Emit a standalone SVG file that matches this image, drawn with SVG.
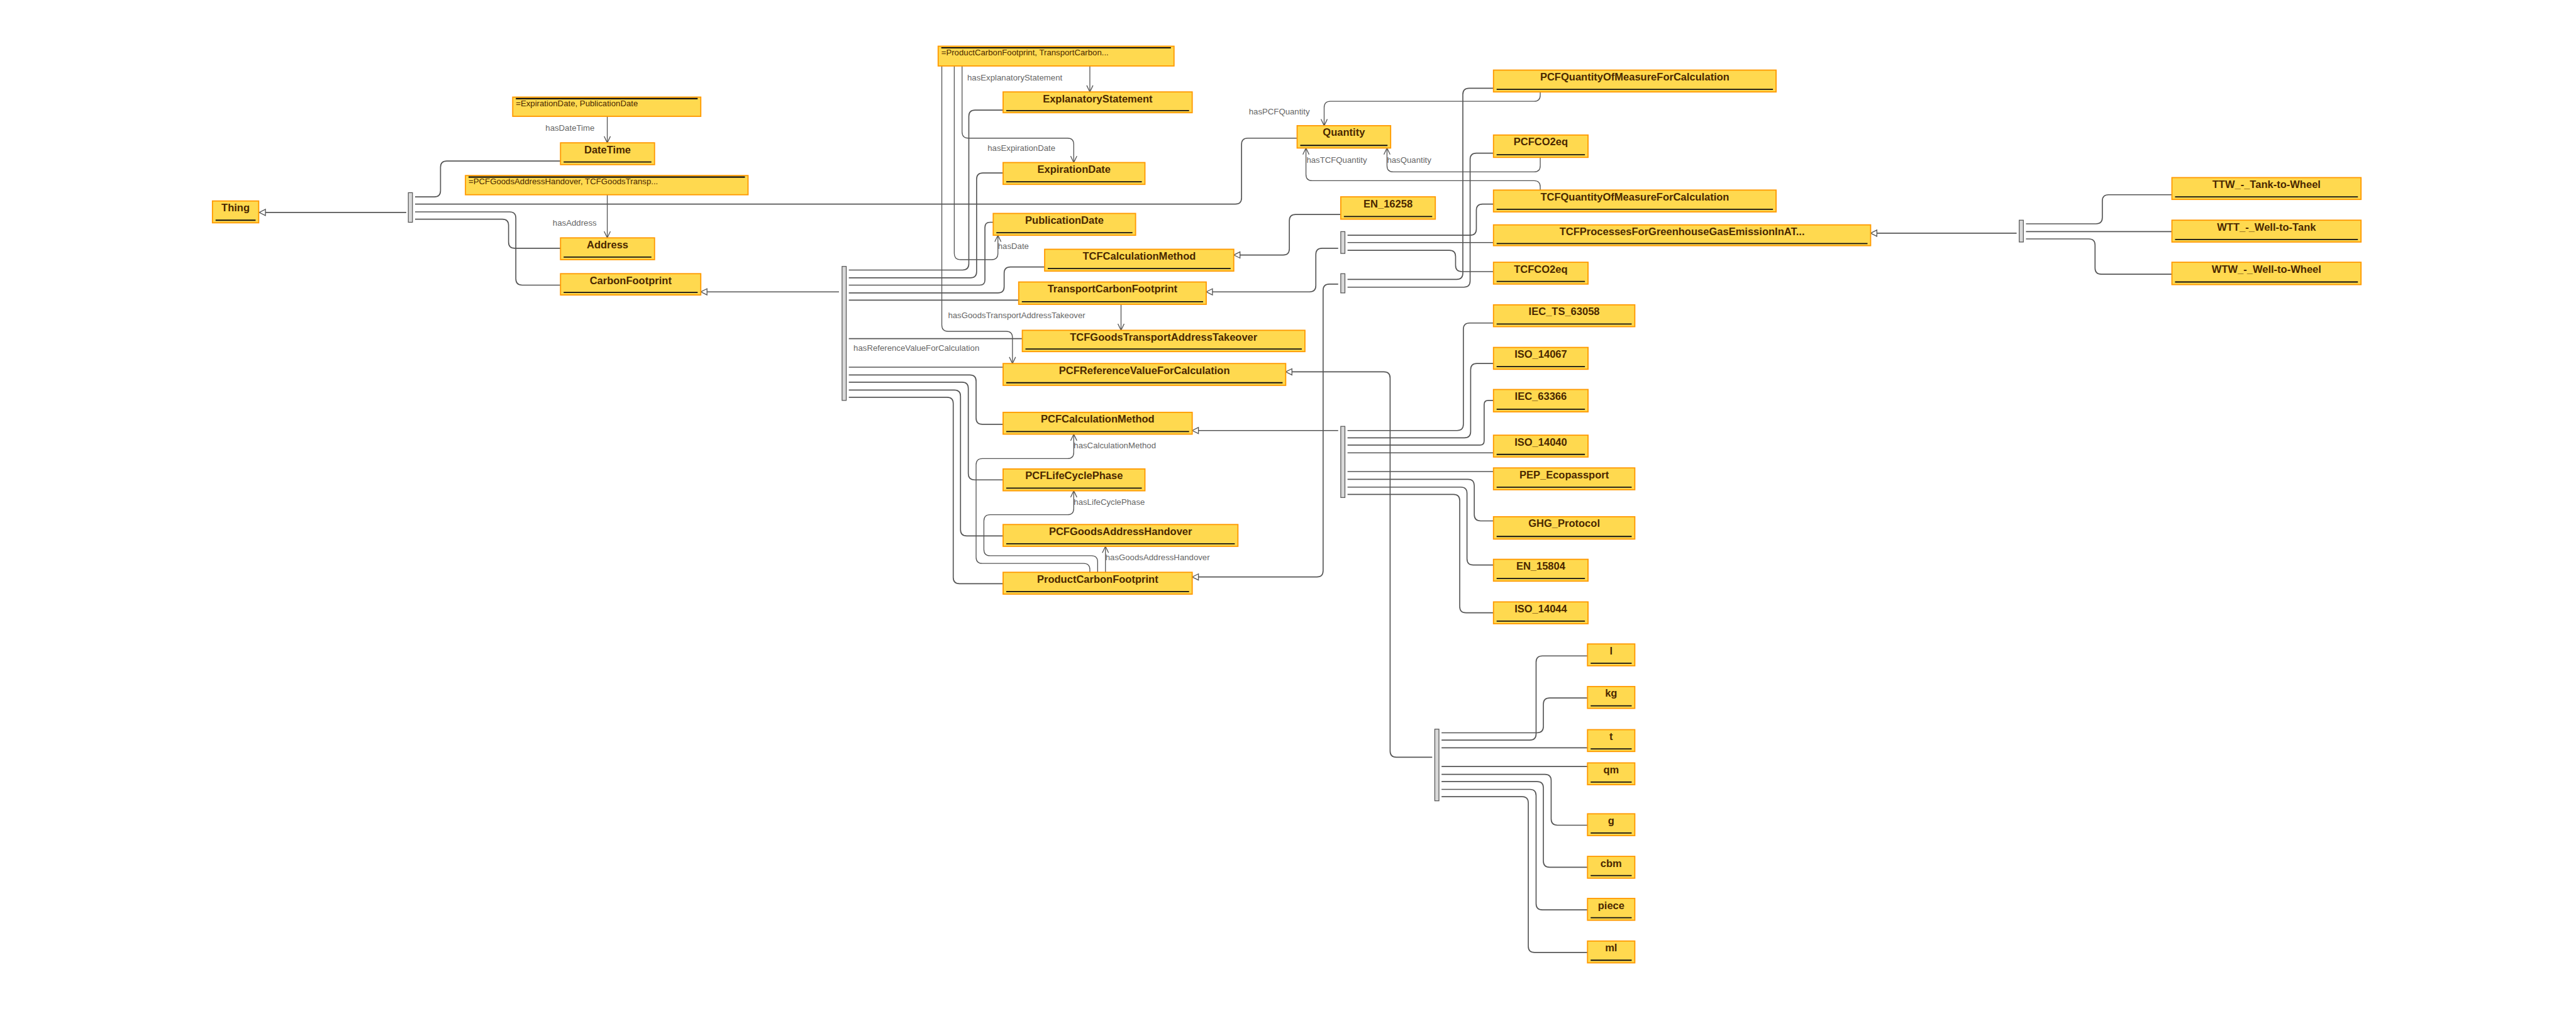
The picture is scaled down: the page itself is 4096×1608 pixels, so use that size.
<svg xmlns="http://www.w3.org/2000/svg" width="4096" height="1608" viewBox="0 0 4096 1608">
<style>
.bg{fill:#ffffff}
.box{fill:#FFD94F;stroke:#FF9900;stroke-width:2.2}
.ul{stroke:#111;stroke-width:2.2}
.nl{stroke:#111;stroke-width:2.6}
.cn{font-family:"Liberation Sans",Arial,sans-serif;font-size:20px;font-weight:bold;fill:#4a2800;text-anchor:middle}
.nt{font-family:"Liberation Sans",Arial,sans-serif;font-size:16px;fill:#4a2800}
.lbl{font-family:"Liberation Sans",Arial,sans-serif;font-size:16px;fill:#666}
.sc{fill:none;stroke:#555;stroke-width:2}
.op{fill:none;stroke:#555;stroke-width:1.6}
.bus{fill:#d9d9d9;stroke:#555;stroke-width:1.5}
</style>
<defs>
<marker id="tri" markerUnits="userSpaceOnUse" markerWidth="16" markerHeight="16" refX="14" refY="7.5" orient="auto">
<path d="M2,1.5 L14,7.5 L2,13.5 Z" fill="#fff" stroke="#555" stroke-width="1.6"/>
</marker>
<marker id="vee" markerUnits="userSpaceOnUse" markerWidth="16" markerHeight="15" refX="14" refY="7" orient="auto">
<path d="M1.5,1 L14,7 L1.5,13" fill="none" stroke="#555" stroke-width="1.6"/>
</marker>
</defs>
<rect class="bg" x="0" y="0" width="4096" height="1608"/>
<g transform="scale(0.826)">
<g id="connectors">
<path class="sc" marker-end="url(#tri)" d="M782,409 H499"/>
<path class="sc" d="M799,379 H836 Q848,379 848,367 V322 Q848,310 860,310 H1079"/>
<path class="sc" d="M799,393 H2378 Q2390,393 2390,381 V278 Q2390,266 2402,266 H2497"/>
<path class="sc" d="M799,408 H981 Q993,408 993,420 V537 Q993,549 1005,549 H1079"/>
<path class="sc" d="M799,422 H967 Q979,422 979,434 V466 Q979,478 991,478 H1079"/>
<path class="sc" marker-end="url(#tri)" d="M1615,562 H1349"/>
<path class="sc" d="M1634,520 H1853 Q1865,520 1865,508 V224 Q1865,212 1877,212 H1931"/>
<path class="sc" d="M1634,535 H1868 Q1880,535 1880,523 V345 Q1880,333 1892,333 H1931"/>
<path class="sc" d="M1634,549 H1886 Q1896,549 1896,539 V438 Q1896,428 1906,428 H1912"/>
<path class="sc" d="M1634,564 H1921 Q1933,564 1933,552 V526 Q1933,514 1945,514 H2011"/>
<path class="sc" d="M1634,578 H1961"/>
<path class="sc" d="M1634,652 H1968"/>
<path class="sc" d="M1634,707 H1931"/>
<path class="sc" d="M1634,722 H1867 Q1879,722 1879,734 V805 Q1879,817 1891,817 H1931"/>
<path class="sc" d="M1634,736 H1852 Q1864,736 1864,748 V912 Q1864,924 1876,924 H1931"/>
<path class="sc" d="M1634,751 H1837 Q1849,751 1849,763 V1020 Q1849,1032 1861,1032 H1931"/>
<path class="sc" d="M1634,765 H1823 Q1835,765 1835,777 V1112 Q1835,1124 1847,1124 H1931"/>
<path class="sc" marker-end="url(#tri)" d="M2581,413 H2494 Q2482,413 2482,425 V479 Q2482,491 2470,491 H2375"/>
<path class="sc" marker-end="url(#tri)" d="M2576,478 H2545 Q2533,478 2533,490 V550 Q2533,562 2521,562 H2322"/>
<path class="sc" d="M2594,453 H2830 Q2842,453 2842,441 V405 Q2842,393 2854,393 H2875"/>
<path class="sc" d="M2594,467 H2875"/>
<path class="sc" d="M2594,482 H2790 Q2802,482 2802,494 V511 Q2802,523 2814,523 H2875"/>
<path class="sc" marker-end="url(#tri)" d="M2576,547 H2559 Q2547,547 2547,559 V1099 Q2547,1111 2535,1111 H2295"/>
<path class="sc" d="M2594,538 H2804 Q2816,538 2816,526 V182 Q2816,170 2828,170 H2875"/>
<path class="sc" d="M2594,553 H2818 Q2830,553 2830,541 V307 Q2830,295 2842,295 H2875"/>
<path class="sc" marker-end="url(#tri)" d="M2576,829 H2295"/>
<path class="sc" d="M2594,829 H2805 Q2817,829 2817,817 V634 Q2817,622 2829,622 H2875"/>
<path class="sc" d="M2594,843 H2819 Q2831,843 2831,831 V712 Q2831,700 2843,700 H2875"/>
<path class="sc" d="M2594,857 H2849 Q2857,857 2857,849 V779 Q2857,771 2865,771 H2875"/>
<path class="sc" d="M2594,872 H2875"/>
<path class="sc" d="M2594,908 H2875"/>
<path class="sc" d="M2594,923 H2826 Q2838,923 2838,935 V991 Q2838,1003 2850,1003 H2875"/>
<path class="sc" d="M2594,938 H2812 Q2824,938 2824,950 V1076 Q2824,1088 2836,1088 H2875"/>
<path class="sc" d="M2594,952 H2798 Q2810,952 2810,964 V1168 Q2810,1180 2822,1180 H2875"/>
<path class="sc" marker-end="url(#tri)" d="M2757,1458 H2688 Q2676,1458 2676,1446 V728 Q2676,716 2664,716 H2475"/>
<path class="sc" d="M2775,1425 H2945 Q2957,1425 2957,1413 V1275 Q2957,1263 2969,1263 H3056"/>
<path class="sc" d="M2775,1411 H2959 Q2971,1411 2971,1399 V1356 Q2971,1344 2983,1344 H3056"/>
<path class="sc" d="M2775,1440 H3056"/>
<path class="sc" d="M2775,1476 H3056"/>
<path class="sc" d="M2775,1491 H2974 Q2986,1491 2986,1503 V1577 Q2986,1589 2998,1589 H3056"/>
<path class="sc" d="M2775,1505 H2959 Q2971,1505 2971,1517 V1658 Q2971,1670 2983,1670 H3056"/>
<path class="sc" d="M2775,1520 H2945 Q2957,1520 2957,1532 V1740 Q2957,1752 2969,1752 H3056"/>
<path class="sc" d="M2775,1534 H2930 Q2942,1534 2942,1546 V1822 Q2942,1834 2954,1834 H3056"/>
<path class="sc" marker-end="url(#tri)" d="M3882,449 H3601"/>
<path class="sc" d="M3900,431 H4035 Q4047,431 4047,419 V387 Q4047,375 4059,375 H4181"/>
<path class="sc" d="M3900,446 H4181"/>
<path class="sc" d="M3900,460 H4021 Q4033,460 4033,472 V516 Q4033,528 4045,528 H4181"/>
<path class="op" marker-end="url(#vee)" d="M1169,224 V275"/>
<path class="op" marker-end="url(#vee)" d="M1169,375 V458"/>
<path class="op" marker-end="url(#vee)" d="M2098,127 V177"/>
<path class="op" marker-end="url(#vee)" d="M1852,127 V254 Q1852,266 1864,266 H2055 Q2067,266 2067,278 V313"/>
<path class="op" marker-end="url(#vee)" d="M1837,127 V488 Q1837,500 1849,500 H1909 Q1921,500 1921,488 V453"/>
<path class="op" marker-end="url(#vee)" d="M1813,127 V626 Q1813,638 1825,638 H1937 Q1949,638 1949,650 V700"/>
<path class="op" marker-end="url(#vee)" d="M2158,586 V636"/>
<path class="op" marker-end="url(#vee)" d="M2965,177 V183 Q2965,195 2953,195 H2561 Q2549,195 2549,207 V242"/>
<path class="op" marker-end="url(#vee)" d="M2965,303 V319 Q2965,331 2953,331 H2682 Q2670,331 2670,319 V285"/>
<path class="op" marker-end="url(#vee)" d="M2965,366 V360 Q2965,348 2953,348 H2526 Q2514,348 2514,336 V285"/>
<path class="op" marker-end="url(#vee)" d="M2098,1102 V1097 Q2098,1085 2086,1085 H1891 Q1879,1085 1879,1073 V895 Q1879,883 1891,883 H2055 Q2067,883 2067,871 V836"/>
<path class="op" marker-end="url(#vee)" d="M2113,1102 V1082 Q2113,1070 2101,1070 H1906 Q1894,1070 1894,1058 V1003 Q1894,991 1906,991 H2055 Q2067,991 2067,979 V945"/>
<path class="op" marker-end="url(#vee)" d="M2128,1102 V1052"/>
<text class="lbl" x="1050" y="252">hasDateTime</text>
<text class="lbl" x="1064" y="435">hasAddress</text>
<text class="lbl" x="1862" y="155">hasExplanatoryStatement</text>
<text class="lbl" x="1901" y="290">hasExpirationDate</text>
<text class="lbl" x="1921" y="480">hasDate</text>
<text class="lbl" x="1643" y="676">hasReferenceValueForCalculation</text>
<text class="lbl" x="1825" y="612">hasGoodsTransportAddressTakeover</text>
<text class="lbl" x="2404" y="220">hasPCFQuantity</text>
<text class="lbl" x="2670" y="313">hasQuantity</text>
<text class="lbl" x="2515" y="313">hasTCFQuantity</text>
<text class="lbl" x="2067" y="863">hasCalculationMethod</text>
<text class="lbl" x="2067" y="972">hasLifeCyclePhase</text>
<text class="lbl" x="2128" y="1079">hasGoodsAddressHandover</text>
</g>
<g id="buses">
<rect id="bus1" class="bus" x="786" y="371" width="8" height="57"/>
<rect id="bus2" class="bus" x="1621" y="513" width="8" height="258"/>
<rect id="busA" class="bus" x="2581" y="446" width="8" height="42"/>
<rect id="busB" class="bus" x="2581" y="527" width="8" height="37"/>
<rect id="busC" class="bus" x="2581" y="821" width="8" height="137"/>
<rect id="busD" class="bus" x="2762" y="1404" width="8" height="138"/>
<rect id="busE" class="bus" x="3887" y="424" width="8" height="42"/>
</g>
<g id="note1"><rect class="box" x="987" y="187" width="362" height="37"/><line class="nl" x1="993" y1="190" x2="1343" y2="190"/><text class="nt" x="993" y="204">=ExpirationDate, PublicationDate</text></g>
<g id="note2"><rect class="box" x="896" y="338" width="544" height="37"/><line class="nl" x1="902" y1="341" x2="1434" y2="341"/><text class="nt" x="902" y="355">=PCFGoodsAddressHandover, TCFGoodsTransp...</text></g>
<g id="note3"><rect class="box" x="1806" y="89" width="454" height="38"/><line class="nl" x1="1812" y1="92" x2="2254" y2="92"/><text class="nt" x="1812" y="106">=ProductCarbonFootprint, TransportCarbon...</text></g>
<g id="Thing"><rect class="box" x="409" y="387" width="89" height="42"/><line class="ul" x1="415" y1="424" x2="492" y2="424"/><text class="cn" x="453.5" y="407">Thing</text></g>
<g id="DateTime"><rect class="box" x="1079" y="275" width="181" height="42"/><line class="ul" x1="1085" y1="312" x2="1254" y2="312"/><text class="cn" x="1169.5" y="295">DateTime</text></g>
<g id="Address"><rect class="box" x="1079" y="458" width="181" height="42"/><line class="ul" x1="1085" y1="495" x2="1254" y2="495"/><text class="cn" x="1169.5" y="478">Address</text></g>
<g id="CarbonFootprint"><rect class="box" x="1079" y="527" width="270" height="41"/><line class="ul" x1="1085" y1="563" x2="1343" y2="563"/><text class="cn" x="1214" y="547">CarbonFootprint</text></g>
<g id="ExplanatoryStatement"><rect class="box" x="1931" y="177" width="364" height="40"/><line class="ul" x1="1937" y1="213" x2="2289" y2="213"/><text class="cn" x="2113" y="197">ExplanatoryStatement</text></g>
<g id="ExpirationDate"><rect class="box" x="1931" y="313" width="273" height="42"/><line class="ul" x1="1937" y1="350" x2="2198" y2="350"/><text class="cn" x="2067.5" y="333">ExpirationDate</text></g>
<g id="PublicationDate"><rect class="box" x="1912" y="411" width="274" height="42"/><line class="ul" x1="1918" y1="448" x2="2180" y2="448"/><text class="cn" x="2049" y="431">PublicationDate</text></g>
<g id="TCFCalculationMethod"><rect class="box" x="2011" y="480" width="364" height="42"/><line class="ul" x1="2017" y1="517" x2="2369" y2="517"/><text class="cn" x="2193" y="500">TCFCalculationMethod</text></g>
<g id="TransportCarbonFootprint"><rect class="box" x="1961" y="543" width="361" height="43"/><line class="ul" x1="1967" y1="581" x2="2316" y2="581"/><text class="cn" x="2141.5" y="563">TransportCarbonFootprint</text></g>
<g id="TCFGoodsTransportAddressTakeover"><rect class="box" x="1968" y="636" width="544" height="41"/><line class="ul" x1="1974" y1="672" x2="2506" y2="672"/><text class="cn" x="2240" y="656">TCFGoodsTransportAddressTakeover</text></g>
<g id="PCFReferenceValueForCalculation"><rect class="box" x="1931" y="700" width="544" height="42"/><line class="ul" x1="1937" y1="737" x2="2469" y2="737"/><text class="cn" x="2203" y="720">PCFReferenceValueForCalculation</text></g>
<g id="PCFCalculationMethod"><rect class="box" x="1931" y="794" width="364" height="42"/><line class="ul" x1="1937" y1="831" x2="2289" y2="831"/><text class="cn" x="2113" y="814">PCFCalculationMethod</text></g>
<g id="PCFLifeCyclePhase"><rect class="box" x="1931" y="903" width="273" height="42"/><line class="ul" x1="1937" y1="940" x2="2198" y2="940"/><text class="cn" x="2067.5" y="923">PCFLifeCyclePhase</text></g>
<g id="PCFGoodsAddressHandover"><rect class="box" x="1931" y="1010" width="452" height="42"/><line class="ul" x1="1937" y1="1047" x2="2377" y2="1047"/><text class="cn" x="2157" y="1030">PCFGoodsAddressHandover</text></g>
<g id="ProductCarbonFootprint"><rect class="box" x="1931" y="1102" width="364" height="42"/><line class="ul" x1="1937" y1="1139" x2="2289" y2="1139"/><text class="cn" x="2113" y="1122">ProductCarbonFootprint</text></g>
<g id="Quantity"><rect class="box" x="2497" y="242" width="180" height="43"/><line class="ul" x1="2503" y1="280" x2="2671" y2="280"/><text class="cn" x="2587" y="262">Quantity</text></g>
<g id="EN_16258"><rect class="box" x="2581" y="379" width="182" height="43"/><line class="ul" x1="2587" y1="417" x2="2757" y2="417"/><text class="cn" x="2672" y="399">EN_16258</text></g>
<g id="PCFQuantityOfMeasureForCalculation"><rect class="box" x="2875" y="135" width="544" height="42"/><line class="ul" x1="2881" y1="172" x2="3413" y2="172"/><text class="cn" x="3147" y="155">PCFQuantityOfMeasureForCalculation</text></g>
<g id="PCFCO2eq"><rect class="box" x="2875" y="260" width="182" height="43"/><line class="ul" x1="2881" y1="298" x2="3051" y2="298"/><text class="cn" x="2966" y="280">PCFCO2eq</text></g>
<g id="TCFQuantityOfMeasureForCalculation"><rect class="box" x="2875" y="366" width="544" height="42"/><line class="ul" x1="2881" y1="403" x2="3413" y2="403"/><text class="cn" x="3147" y="386">TCFQuantityOfMeasureForCalculation</text></g>
<g id="TCFProcessesForGreenhouseGasEmissionInAT"><rect class="box" x="2875" y="433" width="726" height="40"/><line class="ul" x1="2881" y1="469" x2="3595" y2="469"/><text class="cn" x="3238" y="453">TCFProcessesForGreenhouseGasEmissionInAT...</text></g>
<g id="TCFCO2eq"><rect class="box" x="2875" y="505" width="182" height="42"/><line class="ul" x1="2881" y1="542" x2="3051" y2="542"/><text class="cn" x="2966" y="525">TCFCO2eq</text></g>
<g id="IEC_TS_63058"><rect class="box" x="2875" y="587" width="272" height="42"/><line class="ul" x1="2881" y1="624" x2="3141" y2="624"/><text class="cn" x="3011" y="607">IEC_TS_63058</text></g>
<g id="ISO_14067"><rect class="box" x="2875" y="669" width="182" height="42"/><line class="ul" x1="2881" y1="706" x2="3051" y2="706"/><text class="cn" x="2966" y="689">ISO_14067</text></g>
<g id="IEC_63366"><rect class="box" x="2875" y="750" width="182" height="43"/><line class="ul" x1="2881" y1="788" x2="3051" y2="788"/><text class="cn" x="2966" y="770">IEC_63366</text></g>
<g id="ISO_14040"><rect class="box" x="2875" y="838" width="182" height="42"/><line class="ul" x1="2881" y1="875" x2="3051" y2="875"/><text class="cn" x="2966" y="858">ISO_14040</text></g>
<g id="PEP_Ecopassport"><rect class="box" x="2875" y="901" width="272" height="42"/><line class="ul" x1="2881" y1="938" x2="3141" y2="938"/><text class="cn" x="3011" y="921">PEP_Ecopassport</text></g>
<g id="GHG_Protocol"><rect class="box" x="2875" y="995" width="272" height="43"/><line class="ul" x1="2881" y1="1033" x2="3141" y2="1033"/><text class="cn" x="3011" y="1015">GHG_Protocol</text></g>
<g id="EN_15804"><rect class="box" x="2875" y="1077" width="182" height="42"/><line class="ul" x1="2881" y1="1114" x2="3051" y2="1114"/><text class="cn" x="2966" y="1097">EN_15804</text></g>
<g id="ISO_14044"><rect class="box" x="2875" y="1159" width="182" height="42"/><line class="ul" x1="2881" y1="1196" x2="3051" y2="1196"/><text class="cn" x="2966" y="1179">ISO_14044</text></g>
<g id="u_l"><rect class="box" x="3056" y="1240" width="91" height="42"/><line class="ul" x1="3062" y1="1277" x2="3141" y2="1277"/><text class="cn" x="3101.5" y="1260">l</text></g>
<g id="u_kg"><rect class="box" x="3056" y="1322" width="91" height="42"/><line class="ul" x1="3062" y1="1359" x2="3141" y2="1359"/><text class="cn" x="3101.5" y="1342">kg</text></g>
<g id="u_t"><rect class="box" x="3056" y="1405" width="91" height="42"/><line class="ul" x1="3062" y1="1442" x2="3141" y2="1442"/><text class="cn" x="3101.5" y="1425">t</text></g>
<g id="u_qm"><rect class="box" x="3056" y="1469" width="91" height="42"/><line class="ul" x1="3062" y1="1506" x2="3141" y2="1506"/><text class="cn" x="3101.5" y="1489">qm</text></g>
<g id="u_g"><rect class="box" x="3056" y="1567" width="91" height="42"/><line class="ul" x1="3062" y1="1604" x2="3141" y2="1604"/><text class="cn" x="3101.5" y="1587">g</text></g>
<g id="u_cbm"><rect class="box" x="3056" y="1649" width="91" height="42"/><line class="ul" x1="3062" y1="1686" x2="3141" y2="1686"/><text class="cn" x="3101.5" y="1669">cbm</text></g>
<g id="u_piece"><rect class="box" x="3056" y="1730" width="91" height="42"/><line class="ul" x1="3062" y1="1767" x2="3141" y2="1767"/><text class="cn" x="3101.5" y="1750">piece</text></g>
<g id="u_ml"><rect class="box" x="3056" y="1812" width="91" height="42"/><line class="ul" x1="3062" y1="1849" x2="3141" y2="1849"/><text class="cn" x="3101.5" y="1832">ml</text></g>
<g id="TTW"><rect class="box" x="4181" y="342" width="364" height="42"/><line class="ul" x1="4187" y1="379" x2="4539" y2="379"/><text class="cn" x="4363" y="362">TTW_-_Tank-to-Wheel</text></g>
<g id="WTT"><rect class="box" x="4181" y="424" width="364" height="42"/><line class="ul" x1="4187" y1="461" x2="4539" y2="461"/><text class="cn" x="4363" y="444">WTT_-_Well-to-Tank</text></g>
<g id="WTW"><rect class="box" x="4181" y="505" width="364" height="43"/><line class="ul" x1="4187" y1="543" x2="4539" y2="543"/><text class="cn" x="4363" y="525">WTW_-_Well-to-Wheel</text></g>
</g>
</svg>
